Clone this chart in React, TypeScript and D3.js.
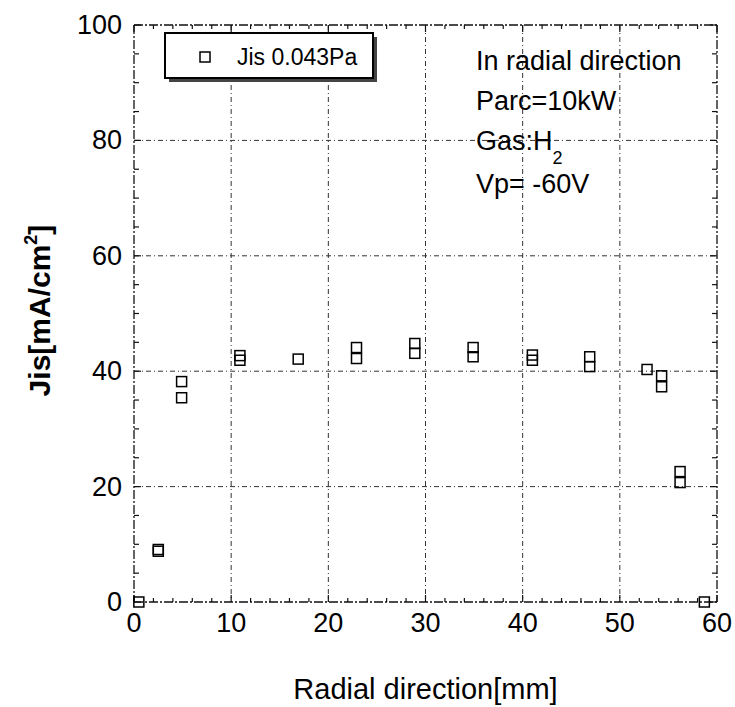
import React from "react";
import * as d3 from "d3";

// Ion saturation current density Jis vs radial position
const radialMm = [0.5, 2.5, 2.5, 4.9, 4.9, 10.9, 10.9, 16.9, 22.9, 22.9, 28.9, 28.9, 34.9, 34.9, 41, 41, 46.9, 46.9, 52.8, 54.3, 54.3, 56.2, 56.2, 58.7];
const jisValues = [0, 9.1, 8.8, 38.2, 35.4, 42.7, 41.9, 42.1, 44.1, 42.2, 44.8, 43.1, 44.1, 42.5, 42.8, 41.9, 42.5, 40.8, 40.3, 39.2, 37.3, 22.6, 20.7, 0];

const xTicks = [0, 10, 20, 30, 40, 50, 60];
const yTicks = [0, 20, 40, 60, 80, 100];
const xMinorTicks = d3.range(0, 61, 2);
const yMinorTicks = d3.range(0, 101, 5);
const legendLabel = "Jis 0.043Pa";
const notes = ["In radial direction", "Parc=10kW", "Gas:H", "Vp= -60V"];

const W = 735;
const H = 707;
const left = 134, right = 717, top = 25, bottom = 602;
const FONT = "'Liberation Sans', Arial, sans-serif";

export default function App() {
  const x = d3.scaleLinear().domain([0, 60]).range([left, right]);
  const y = d3.scaleLinear().domain([0, 100]).range([bottom, top]);
  const gridDash = "5,3,1,3";
  const frameDash = "9,2,2,2";
  const ms = 10;

  return (
    <svg width={W} height={H} style={{ position: "absolute", left: 0, top: 0, background: "#fff" }} fontFamily={FONT}>
      <rect x={0} y={0} width={W} height={H} fill="#fff" />
      {/* grid */}
      {xTicks.slice(1, -1).map((t) => (
        <line key={"gx" + t} x1={x(t)} x2={x(t)} y1={top} y2={bottom} stroke="#333" strokeWidth={1} strokeDasharray={gridDash} />
      ))}
      {yTicks.slice(1, -1).map((t) => (
        <line key={"gy" + t} x1={left} x2={right} y1={y(t)} y2={y(t)} stroke="#333" strokeWidth={1} strokeDasharray={gridDash} />
      ))}
      {/* frame */}
      <g stroke="#111" strokeWidth={1.3} strokeDasharray={frameDash} fill="none">
        <line x1={left} x2={right} y1={top} y2={top} />
        <line x1={left} x2={right} y1={bottom} y2={bottom} />
        <line x1={left} x2={left} y1={top} y2={bottom} />
        <line x1={right} x2={right} y1={top} y2={bottom} />
      </g>
      {/* ticks (inward) */}
      <g stroke="#111" strokeWidth={1.2}>
        {xMinorTicks.map((t) => {
          const len = t % 10 === 0 ? 7 : 4;
          return (
            <g key={"tx" + t}>
              <line x1={x(t)} x2={x(t)} y1={bottom} y2={bottom - len} />
              <line x1={x(t)} x2={x(t)} y1={top} y2={top + len} />
            </g>
          );
        })}
        {yMinorTicks.map((t) => {
          const len = t % 20 === 0 ? 7 : 5;
          return (
            <g key={"ty" + t}>
              <line x1={left} x2={left + len} y1={y(t)} y2={y(t)} />
              <line x1={right} x2={right - len} y1={y(t)} y2={y(t)} />
            </g>
          );
        })}
      </g>
      {/* tick labels */}
      {xTicks.map((t) => (
        <text key={"lx" + t} x={x(t)} y={bottom + 30} fontSize={27} textAnchor="middle" fill="#000">{t}</text>
      ))}
      {yTicks.map((t) => (
        <text key={"ly" + t} x={left - 12} y={y(t) + 9} fontSize={27} textAnchor="end" fill="#000">{t}</text>
      ))}
      {/* axis titles */}
      <text x={(left + right) / 2} y={699} fontSize={29} textAnchor="middle" fill="#000">Radial direction[mm]</text>
      <text transform={`translate(50,${(top + bottom) / 2 - 3}) rotate(-90)`} fontSize={30} fontWeight="bold" textAnchor="middle" fill="#000">
        Jis[mA/cm<tspan dy={-13} fontSize={18}>2</tspan><tspan dy={13}>]</tspan>
      </text>
      {/* data markers */}
      {radialMm.map((r, i) => (
        <rect key={"p" + i} x={x(r) - ms / 2} y={y(jisValues[i]) - ms / 2} width={ms} height={ms} fill="none" stroke="#000" strokeWidth={1.5} />
      ))}
      {/* legend */}
      <rect x={169} y={37} width={208} height={45} fill="#444" />
      <rect x={165} y={33} width={208} height={45} fill="#fff" stroke="#000" strokeWidth={2} />
      <rect x={200} y={52} width={10} height={10} fill="none" stroke="#000" strokeWidth={1.5} />
      <text x={237} y={65} fontSize={23} fill="#000">{legendLabel}</text>
      {/* annotation */}
      <g fontSize={27} fill="#000">
        <text x={476} y={70}>{notes[0]}</text>
        <text x={476} y={110}>{notes[1]}</text>
        <text x={476} y={150}>{notes[2]}<tspan dy={14} fontSize={18}>2</tspan></text>
        <text x={476} y={193}>{notes[3]}</text>
      </g>
    </svg>
  );
}
